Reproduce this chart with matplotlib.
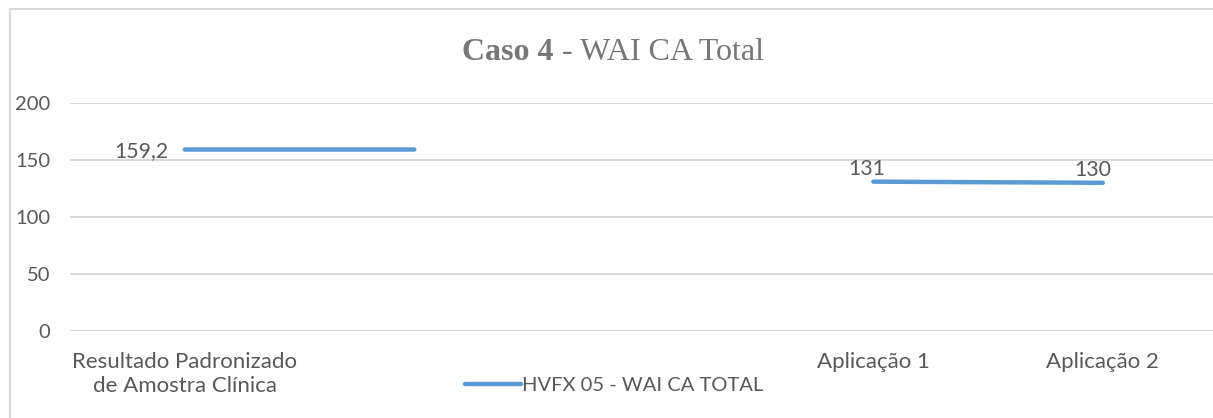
import numpy as np
import matplotlib
matplotlib.use("Agg")
import matplotlib.pyplot as plt
from matplotlib.lines import Line2D

categories = ["Resultado Padronizado\nde Amostra Clínica", "", "", "Aplicação 1", "Aplicação 2"]
values = [159.2, 159.2, np.nan, 131, 130]
series_name = "HVFX 05 - WAI CA TOTAL"
yticks = [0, 50, 100, 150, 200]

W, H = 1213, 418
DPI = 100
plt.rcParams['font.family'] = ['Lato', 'DejaVu Sans']
fig = plt.figure(figsize=(W / DPI, H / DPI), dpi=DPI)

grid_c = "#d9d9d9"
text_c = "#595959"
line_c = "#5b9bd5"

# plot area
left_px, right_px = 70, 1213
bottom_px, top_px = 331, 103
ax = fig.add_axes([left_px / W, 1 - bottom_px / H, (right_px - left_px) / W, (bottom_px - top_px) / H])
ax.set_xlim(-0.5, 4.48)
ax.set_ylim(0, 200)
ax.set_yticks(yticks)
ax.set_yticklabels([str(t) for t in yticks])
ax.set_xticks(range(len(categories)))
ax.set_xticklabels(categories, linespacing=1.28)
for s in ax.spines.values():
    s.set_visible(False)
ax.grid(axis='y', color=grid_c, linewidth=1.4)
ax.set_axisbelow(True)
ax.tick_params(axis='both', length=0, labelcolor=text_c)
ax.tick_params(axis='y', pad=14, labelsize=14.5)
ax.tick_params(axis='x', pad=15, labelsize=16)

x = np.arange(len(categories))
ln, = ax.plot(x, values, color=line_c, linewidth=3.2, solid_capstyle='round', label=series_name)

# data labels
ax.annotate("159,2", (x[0], values[0]), xytext=(-12, -1), textcoords='offset points',
            ha='right', va='center', fontsize=15.3, color=text_c)
ax.annotate("131", (x[3], values[3]), xytext=(-5, 2), textcoords='offset points',
            ha='center', va='bottom', fontsize=15.3, color=text_c)
ax.annotate("130", (x[4], values[4]), xytext=(-7, 2), textcoords='offset points',
            ha='center', va='bottom', fontsize=15.3, color=text_c)

# title (bold "Caso 4" + regular rest), centred on chart at x=613
title_kw = dict(color="#777777", fontsize=23, family=['Liberation Serif'], va='baseline', ha='left')
ty = 1 - 60 / H
ta = fig.text(0, ty, "Caso 4", fontweight='bold', **title_kw)
tb = fig.text(0, ty, " - WAI CA Total", **title_kw)
fig.canvas.draw()
r = fig.canvas.get_renderer()
wa = ta.get_window_extent(r).width
wb = tb.get_window_extent(r).width
x0 = 613 - (wa + wb) / 2
ta.set_x(x0 / W)
tb.set_x((x0 + wa) / W)

# legend
leg = fig.legend(handles=[ln], loc='center left', bbox_to_anchor=(465 / W, 1 - 385 / H),
                 frameon=False, fontsize=14.5, handlelength=2.8, handletextpad=0.05,
                 borderpad=0, borderaxespad=0)
for t in leg.get_texts():
    t.set_color(text_c)

# chart frame (left and top edges visible)
fig.add_artist(Line2D([10 / W, 10 / W], [0, 1 - 9 / H], transform=fig.transFigure, color=grid_c, lw=1.5))
fig.add_artist(Line2D([10 / W, 1], [1 - 9 / H, 1 - 9 / H], transform=fig.transFigure, color=grid_c, lw=1.5))

fig.savefig("out.png", dpi=DPI, facecolor='white')
